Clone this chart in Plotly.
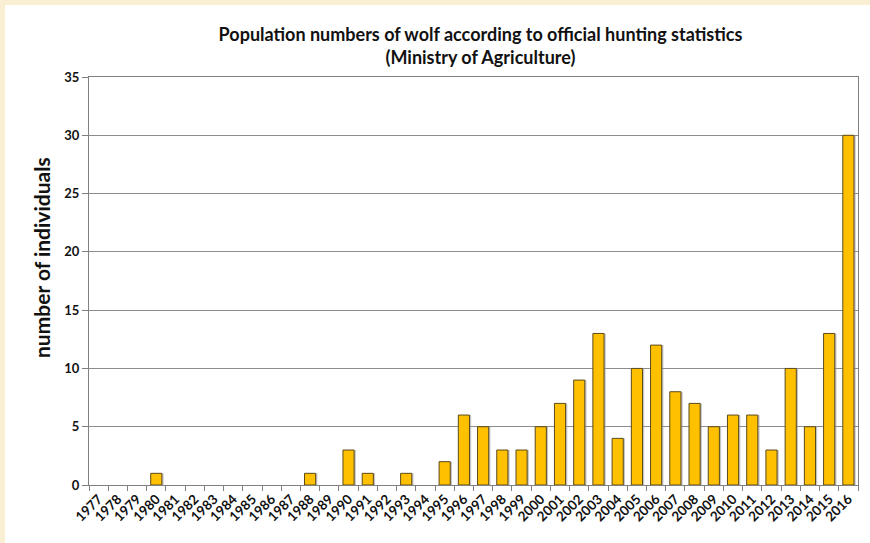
import plotly.graph_objects as go

years = [str(y) for y in range(1977, 2017)]
wolves = [0, 0, 0, 1, 0, 0, 0, 0, 0, 0, 0, 1, 0, 3, 1, 0, 1, 0, 2, 6,
          5, 3, 3, 5, 7, 9, 13, 4, 10, 12, 8, 7, 5, 6, 6, 3, 10, 5, 13, 30]

title_text = "<b>Population numbers of wolf according to official hunting statistics<br>(Ministry of Agriculture)</b>"
y_title = "<b>number of individuals</b>"
y_ticks = [0, 5, 10, 15, 20, 25, 30, 35]

W, H = 870, 543
L, R, T, B = 89, 12, 77, 58
pw, ph = W - L - R, H - T - B

outline_w = [1 if v > 0 else 0 for v in wolves]

fig = go.Figure()
# shadow trace
fig.add_trace(go.Bar(
    x=years, y=wolves, width=0.58, offset=-0.2,
    marker=dict(color="rgba(150,150,150,0.55)", line=dict(width=0)),
    hoverinfo="skip", showlegend=False,
))
fig.add_trace(go.Bar(
    x=years, y=wolves, width=0.58, offset=-0.29,
    marker=dict(color="#FFC000", line=dict(color="#5b4a1c", width=outline_w)),
    showlegend=False,
))

font_family = "Lato, 'Open Sans', sans-serif"

fig.update_layout(
    width=W, height=H,
    margin=dict(l=L, r=R, t=T, b=B),
    paper_bgcolor="#FBEFD3",
    plot_bgcolor="white",
    barmode="overlay",
    font=dict(family=font_family, color="#111111"),
    title=dict(text=title_text, x=(L + pw / 2) / W + 0.008, xanchor="center",
               y=1 - 41 / H, yanchor="top",
               font=dict(size=18, family=font_family, color="#111111")),
    xaxis=dict(
        type="category", tickangle=-45, tickson="boundaries",
        ticks="outside", ticklen=5, tickcolor="#808080",
        showline=True, linecolor="#808080", linewidth=1, mirror=True,
        showgrid=False, automargin=False,
        tickfont=dict(size=13.5, family=font_family, color="#111111", weight="bold"),
        range=[-0.5, 39.5],
    ),
    yaxis=dict(
        range=[0, 35], tickvals=y_ticks,
        ticks="outside", ticklen=6, tickcolor="#808080",
        showline=True, linecolor="#808080", linewidth=1, mirror=True,
        showgrid=True, gridcolor="#8c8c8c", gridwidth=1,
        zeroline=False, automargin=False,
        tickfont=dict(size=13, family=font_family, color="#111111", weight="bold"),
    ),
    annotations=[dict(
        text=y_title, textangle=-90, showarrow=False,
        xref="paper", yref="paper",
        x=(41 - L) / pw, y=(485 - 258) / ph,
        xanchor="center", yanchor="middle",
        font=dict(size=21, family=font_family, color="#111111"),
    )],
    shapes=[dict(
        type="rect", xref="paper", yref="paper", layer="below",
        x0=(5 - L) / pw, x1=(W + 5 - L) / pw,
        y0=(ph + T - (H + 5)) / ph, y1=(ph + T - 5) / ph,
        fillcolor="white", line=dict(width=0),
    )],
)

fig.write_html("out.html", post_script="document.body.style.margin='0';",
               config={"displayModeBar": False})
